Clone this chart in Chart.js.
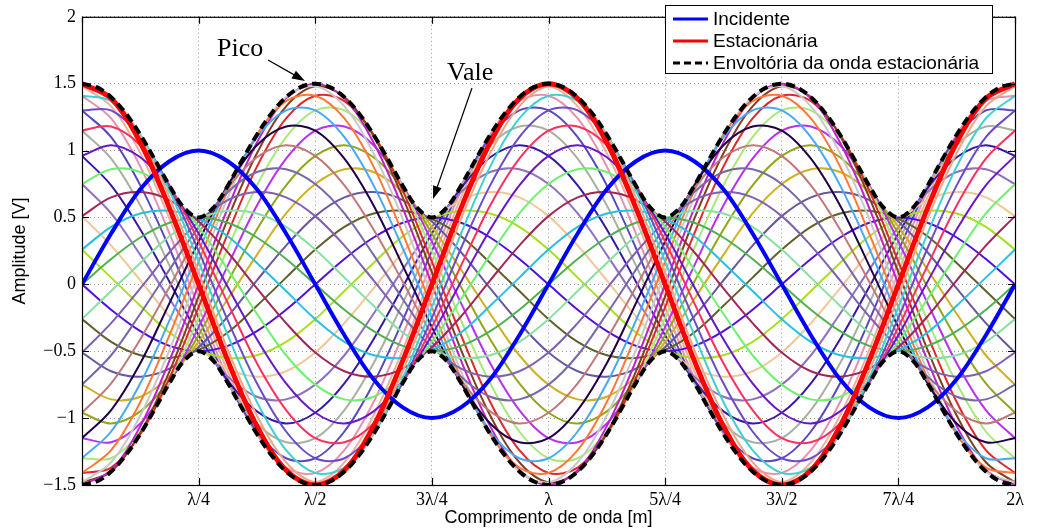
<!DOCTYPE html>
<html>
<head>
<meta charset="utf-8">
<script src="https://cdn.jsdelivr.net/npm/chart.js@4.4.1/dist/chart.umd.min.js"></script>
<style>
  html, body { margin: 0; padding: 0; background: #fff; }
  canvas { display: block; }
</style>
</head>
<body>
<canvas id="ondaChart" width="1057" height="532"></canvas>
<script>
// posições em x (em comprimentos de onda), passo de lambda/16
const xPassos = [0,0.0625,0.125,0.1875,0.25,0.3125,0.375,0.4375,0.5,0.5625,0.625,0.6875,0.75,0.8125,0.875,0.9375,1,
  1.0625,1.125,1.1875,1.25,1.3125,1.375,1.4375,1.5,1.5625,1.625,1.6875,1.75,1.8125,1.875,1.9375,2];

// passo de lambda/32 para a envoltória
const xFino = [0,0.03125,0.0625,0.09375,0.125,0.15625,0.1875,0.21875,0.25,0.28125,0.3125,0.34375,0.375,0.40625,0.4375,0.46875,
  0.5,0.53125,0.5625,0.59375,0.625,0.65625,0.6875,0.71875,0.75,0.78125,0.8125,0.84375,0.875,0.90625,0.9375,0.96875,
  1,1.03125,1.0625,1.09375,1.125,1.15625,1.1875,1.21875,1.25,1.28125,1.3125,1.34375,1.375,1.40625,1.4375,1.46875,
  1.5,1.53125,1.5625,1.59375,1.625,1.65625,1.6875,1.71875,1.75,1.78125,1.8125,1.84375,1.875,1.90625,1.9375,1.96875,2];

const xTickLabels = ['', 'λ/4', 'λ/2', '3λ/4', 'λ', '5λ/4', '3λ/2', '7λ/4', '2λ'];
const yTickLabels = ['−1.5', '−1', '−0.5', '0', '0.5', '1', '1.5', '2'];

// onda incidente
const incidente = [0,0.38,0.71,0.92,1,0.92,0.71,0.38,0,-0.38,-0.71,-0.92,-1,-0.92,-0.71,-0.38,
  0,0.38,0.71,0.92,1,0.92,0.71,0.38,0,-0.38,-0.71,-0.92,-1,-0.92,-0.71,-0.38,0];

// onda estacionaria (instante destacado)
const estacionaria = [1.5,1.39,1.06,0.57,0,-0.57,-1.06,-1.39,-1.5,-1.39,-1.06,-0.57,0,0.57,1.06,1.39,
  1.5,1.39,1.06,0.57,0,-0.57,-1.06,-1.39,-1.5,-1.39,-1.06,-0.57,0,0.57,1.06,1.39,1.5];

// envoltoria
const envSuperior = [1.5,1.474,1.399,1.278,1.118,0.931,0.737,0.571,0.5,0.571,0.737,0.931,1.118,1.278,1.399,1.474,
  1.5,1.474,1.399,1.278,1.118,0.931,0.737,0.571,0.5,0.571,0.737,0.931,1.118,1.278,1.399,1.474,
  1.5,1.474,1.399,1.278,1.118,0.931,0.737,0.571,0.5,0.571,0.737,0.931,1.118,1.278,1.399,1.474,
  1.5,1.474,1.399,1.278,1.118,0.931,0.737,0.571,0.5,0.571,0.737,0.931,1.118,1.278,1.399,1.474,1.5];
const envInferior = [-1.5,-1.474,-1.399,-1.278,-1.118,-0.931,-0.737,-0.571,-0.5,-0.571,-0.737,-0.931,-1.118,-1.278,-1.399,-1.474,
  -1.5,-1.474,-1.399,-1.278,-1.118,-0.931,-0.737,-0.571,-0.5,-0.571,-0.737,-0.931,-1.118,-1.278,-1.399,-1.474,
  -1.5,-1.474,-1.399,-1.278,-1.118,-0.931,-0.737,-0.571,-0.5,-0.571,-0.737,-0.931,-1.118,-1.278,-1.399,-1.474,
  -1.5,-1.474,-1.399,-1.278,-1.118,-0.931,-0.737,-0.571,-0.5,-0.571,-0.737,-0.931,-1.118,-1.278,-1.399,-1.474,-1.5];

// instantes da onda estacionaria, de 10 em 10 graus
const t000 = [1.5,1.39,1.06,0.57,0,-0.57,-1.06,-1.39,-1.5,-1.39,-1.06,-0.57,0,0.57,1.06,1.39,1.5,1.39,1.06,0.57,0,-0.57,-1.06,-1.39,-1.5,-1.39,-1.06,-0.57,0,0.57,1.06,1.39,1.5];
const t010 = [1.48,1.4,1.11,0.65,0.09,-0.49,-0.98,-1.33,-1.48,-1.4,-1.11,-0.65,-0.09,0.49,0.98,1.33,1.48,1.4,1.11,0.65,0.09,-0.49,-0.98,-1.33,-1.48,-1.4,-1.11,-0.65,-0.09,0.49,0.98,1.33,1.48];
const t020 = [1.41,1.37,1.12,0.7,0.17,-0.38,-0.88,-1.24,-1.41,-1.37,-1.12,-0.7,-0.17,0.38,0.88,1.24,1.41,1.37,1.12,0.7,0.17,-0.38,-0.88,-1.24,-1.41,-1.37,-1.12,-0.7,-0.17,0.38,0.88,1.24,1.41];
const t030 = [1.3,1.3,1.1,0.73,0.25,-0.27,-0.74,-1.1,-1.3,-1.3,-1.1,-0.73,-0.25,0.27,0.74,1.1,1.3,1.3,1.1,0.73,0.25,-0.27,-0.74,-1.1,-1.3,-1.3,-1.1,-0.73,-0.25,0.27,0.74,1.1,1.3];
const t040 = [1.15,1.18,1.04,0.74,0.32,-0.14,-0.59,-0.94,-1.15,-1.18,-1.04,-0.74,-0.32,0.14,0.59,0.94,1.15,1.18,1.04,0.74,0.32,-0.14,-0.59,-0.94,-1.15,-1.18,-1.04,-0.74,-0.32,0.14,0.59,0.94,1.15];
const t050 = [0.96,1.04,0.95,0.72,0.38,-0.02,-0.41,-0.74,-0.96,-1.04,-0.95,-0.72,-0.38,0.02,0.41,0.74,0.96,1.04,0.95,0.72,0.38,-0.02,-0.41,-0.74,-0.96,-1.04,-0.95,-0.72,-0.38,0.02,0.41,0.74,0.96];
const t060 = [0.75,0.86,0.84,0.69,0.43,0.11,-0.22,-0.53,-0.75,-0.86,-0.84,-0.69,-0.43,-0.11,0.22,0.53,0.75,0.86,0.84,0.69,0.43,0.11,-0.22,-0.53,-0.75,-0.86,-0.84,-0.69,-0.43,-0.11,0.22,0.53,0.75];
const t070 = [0.51,0.65,0.69,0.63,0.47,0.24,-0.03,-0.29,-0.51,-0.65,-0.69,-0.63,-0.47,-0.24,0.03,0.29,0.51,0.65,0.69,0.63,0.47,0.24,-0.03,-0.29,-0.51,-0.65,-0.69,-0.63,-0.47,-0.24,0.03,0.29,0.51];
const t080 = [0.26,0.43,0.53,0.55,0.49,0.36,0.16,-0.05,-0.26,-0.43,-0.53,-0.55,-0.49,-0.36,-0.16,0.05,0.26,0.43,0.53,0.55,0.49,0.36,0.16,-0.05,-0.26,-0.43,-0.53,-0.55,-0.49,-0.36,-0.16,0.05,0.26];
const t090 = [0,0.19,0.35,0.46,0.5,0.46,0.35,0.19,0,-0.19,-0.35,-0.46,-0.5,-0.46,-0.35,-0.19,0,0.19,0.35,0.46,0.5,0.46,0.35,0.19,0,-0.19,-0.35,-0.46,-0.5,-0.46,-0.35,-0.19,0];
const t100 = [-0.26,-0.05,0.16,0.36,0.49,0.55,0.53,0.43,0.26,0.05,-0.16,-0.36,-0.49,-0.55,-0.53,-0.43,-0.26,-0.05,0.16,0.36,0.49,0.55,0.53,0.43,0.26,0.05,-0.16,-0.36,-0.49,-0.55,-0.53,-0.43,-0.26];
const t110 = [-0.51,-0.29,-0.03,0.24,0.47,0.63,0.69,0.65,0.51,0.29,0.03,-0.24,-0.47,-0.63,-0.69,-0.65,-0.51,-0.29,-0.03,0.24,0.47,0.63,0.69,0.65,0.51,0.29,0.03,-0.24,-0.47,-0.63,-0.69,-0.65,-0.51];
const t120 = [-0.75,-0.53,-0.22,0.11,0.43,0.69,0.84,0.86,0.75,0.53,0.22,-0.11,-0.43,-0.69,-0.84,-0.86,-0.75,-0.53,-0.22,0.11,0.43,0.69,0.84,0.86,0.75,0.53,0.22,-0.11,-0.43,-0.69,-0.84,-0.86,-0.75];
const t130 = [-0.96,-0.74,-0.41,-0.02,0.38,0.72,0.95,1.04,0.96,0.74,0.41,0.02,-0.38,-0.72,-0.95,-1.04,-0.96,-0.74,-0.41,-0.02,0.38,0.72,0.95,1.04,0.96,0.74,0.41,0.02,-0.38,-0.72,-0.95,-1.04,-0.96];
const t140 = [-1.15,-0.94,-0.59,-0.14,0.32,0.74,1.04,1.18,1.15,0.94,0.59,0.14,-0.32,-0.74,-1.04,-1.18,-1.15,-0.94,-0.59,-0.14,0.32,0.74,1.04,1.18,1.15,0.94,0.59,0.14,-0.32,-0.74,-1.04,-1.18,-1.15];
const t150 = [-1.3,-1.1,-0.74,-0.27,0.25,0.73,1.1,1.3,1.3,1.1,0.74,0.27,-0.25,-0.73,-1.1,-1.3,-1.3,-1.1,-0.74,-0.27,0.25,0.73,1.1,1.3,1.3,1.1,0.74,0.27,-0.25,-0.73,-1.1,-1.3,-1.3];
const t160 = [-1.41,-1.24,-0.88,-0.38,0.17,0.7,1.12,1.37,1.41,1.24,0.88,0.38,-0.17,-0.7,-1.12,-1.37,-1.41,-1.24,-0.88,-0.38,0.17,0.7,1.12,1.37,1.41,1.24,0.88,0.38,-0.17,-0.7,-1.12,-1.37,-1.41];
const t170 = [-1.48,-1.33,-0.98,-0.49,0.09,0.65,1.11,1.4,1.48,1.33,0.98,0.49,-0.09,-0.65,-1.11,-1.4,-1.48,-1.33,-0.98,-0.49,0.09,0.65,1.11,1.4,1.48,1.33,0.98,0.49,-0.09,-0.65,-1.11,-1.4,-1.48];
const t180 = [-1.5,-1.39,-1.06,-0.57,0,0.57,1.06,1.39,1.5,1.39,1.06,0.57,0,-0.57,-1.06,-1.39,-1.5,-1.39,-1.06,-0.57,0,0.57,1.06,1.39,1.5,1.39,1.06,0.57,0,-0.57,-1.06,-1.39,-1.5];
const t190 = [-1.48,-1.4,-1.11,-0.65,-0.09,0.49,0.98,1.33,1.48,1.4,1.11,0.65,0.09,-0.49,-0.98,-1.33,-1.48,-1.4,-1.11,-0.65,-0.09,0.49,0.98,1.33,1.48,1.4,1.11,0.65,0.09,-0.49,-0.98,-1.33,-1.48];
const t200 = [-1.41,-1.37,-1.12,-0.7,-0.17,0.38,0.88,1.24,1.41,1.37,1.12,0.7,0.17,-0.38,-0.88,-1.24,-1.41,-1.37,-1.12,-0.7,-0.17,0.38,0.88,1.24,1.41,1.37,1.12,0.7,0.17,-0.38,-0.88,-1.24,-1.41];
const t210 = [-1.3,-1.3,-1.1,-0.73,-0.25,0.27,0.74,1.1,1.3,1.3,1.1,0.73,0.25,-0.27,-0.74,-1.1,-1.3,-1.3,-1.1,-0.73,-0.25,0.27,0.74,1.1,1.3,1.3,1.1,0.73,0.25,-0.27,-0.74,-1.1,-1.3];
const t220 = [-1.15,-1.18,-1.04,-0.74,-0.32,0.14,0.59,0.94,1.15,1.18,1.04,0.74,0.32,-0.14,-0.59,-0.94,-1.15,-1.18,-1.04,-0.74,-0.32,0.14,0.59,0.94,1.15,1.18,1.04,0.74,0.32,-0.14,-0.59,-0.94,-1.15];
const t230 = [-0.96,-1.04,-0.95,-0.72,-0.38,0.02,0.41,0.74,0.96,1.04,0.95,0.72,0.38,-0.02,-0.41,-0.74,-0.96,-1.04,-0.95,-0.72,-0.38,0.02,0.41,0.74,0.96,1.04,0.95,0.72,0.38,-0.02,-0.41,-0.74,-0.96];
const t240 = [-0.75,-0.86,-0.84,-0.69,-0.43,-0.11,0.22,0.53,0.75,0.86,0.84,0.69,0.43,0.11,-0.22,-0.53,-0.75,-0.86,-0.84,-0.69,-0.43,-0.11,0.22,0.53,0.75,0.86,0.84,0.69,0.43,0.11,-0.22,-0.53,-0.75];
const t250 = [-0.51,-0.65,-0.69,-0.63,-0.47,-0.24,0.03,0.29,0.51,0.65,0.69,0.63,0.47,0.24,-0.03,-0.29,-0.51,-0.65,-0.69,-0.63,-0.47,-0.24,0.03,0.29,0.51,0.65,0.69,0.63,0.47,0.24,-0.03,-0.29,-0.51];
const t260 = [-0.26,-0.43,-0.53,-0.55,-0.49,-0.36,-0.16,0.05,0.26,0.43,0.53,0.55,0.49,0.36,0.16,-0.05,-0.26,-0.43,-0.53,-0.55,-0.49,-0.36,-0.16,0.05,0.26,0.43,0.53,0.55,0.49,0.36,0.16,-0.05,-0.26];
const t270 = [0,-0.19,-0.35,-0.46,-0.5,-0.46,-0.35,-0.19,0,0.19,0.35,0.46,0.5,0.46,0.35,0.19,0,-0.19,-0.35,-0.46,-0.5,-0.46,-0.35,-0.19,0,0.19,0.35,0.46,0.5,0.46,0.35,0.19,0];
const t280 = [0.26,0.05,-0.16,-0.36,-0.49,-0.55,-0.53,-0.43,-0.26,-0.05,0.16,0.36,0.49,0.55,0.53,0.43,0.26,0.05,-0.16,-0.36,-0.49,-0.55,-0.53,-0.43,-0.26,-0.05,0.16,0.36,0.49,0.55,0.53,0.43,0.26];
const t290 = [0.51,0.29,0.03,-0.24,-0.47,-0.63,-0.69,-0.65,-0.51,-0.29,-0.03,0.24,0.47,0.63,0.69,0.65,0.51,0.29,0.03,-0.24,-0.47,-0.63,-0.69,-0.65,-0.51,-0.29,-0.03,0.24,0.47,0.63,0.69,0.65,0.51];
const t300 = [0.75,0.53,0.22,-0.11,-0.43,-0.69,-0.84,-0.86,-0.75,-0.53,-0.22,0.11,0.43,0.69,0.84,0.86,0.75,0.53,0.22,-0.11,-0.43,-0.69,-0.84,-0.86,-0.75,-0.53,-0.22,0.11,0.43,0.69,0.84,0.86,0.75];
const t310 = [0.96,0.74,0.41,0.02,-0.38,-0.72,-0.95,-1.04,-0.96,-0.74,-0.41,-0.02,0.38,0.72,0.95,1.04,0.96,0.74,0.41,0.02,-0.38,-0.72,-0.95,-1.04,-0.96,-0.74,-0.41,-0.02,0.38,0.72,0.95,1.04,0.96];
const t320 = [1.15,0.94,0.59,0.14,-0.32,-0.74,-1.04,-1.18,-1.15,-0.94,-0.59,-0.14,0.32,0.74,1.04,1.18,1.15,0.94,0.59,0.14,-0.32,-0.74,-1.04,-1.18,-1.15,-0.94,-0.59,-0.14,0.32,0.74,1.04,1.18,1.15];
const t330 = [1.3,1.1,0.74,0.27,-0.25,-0.73,-1.1,-1.3,-1.3,-1.1,-0.74,-0.27,0.25,0.73,1.1,1.3,1.3,1.1,0.74,0.27,-0.25,-0.73,-1.1,-1.3,-1.3,-1.1,-0.74,-0.27,0.25,0.73,1.1,1.3,1.3];
const t340 = [1.41,1.24,0.88,0.38,-0.17,-0.7,-1.12,-1.37,-1.41,-1.24,-0.88,-0.38,0.17,0.7,1.12,1.37,1.41,1.24,0.88,0.38,-0.17,-0.7,-1.12,-1.37,-1.41,-1.24,-0.88,-0.38,0.17,0.7,1.12,1.37,1.41];
const t350 = [1.48,1.33,0.98,0.49,-0.09,-0.65,-1.11,-1.4,-1.48,-1.33,-0.98,-0.49,0.09,0.65,1.11,1.4,1.48,1.33,0.98,0.49,-0.09,-0.65,-1.11,-1.4,-1.48,-1.33,-0.98,-0.49,0.09,0.65,1.11,1.4,1.48];

const instantes = [t000,t010,t020,t030,t040,t050,t060,t070,t080,t090,t100,t110,t120,t130,t140,t150,t160,t170,
  t180,t190,t200,t210,t220,t230,t240,t250,t260,t270,t280,t290,t300,t310,t320,t330,t340,t350];
const coresInstantes = ['#1a1a1a','#e8a888','#40d0d0','#6a4cc8','#ff3060','#6818c8','#70f070','#a02858','#28c0e0',
  '#50b050','#88e0a0','#8060b0','#7868a8','#c07878','#200048','#48a8f8','#ff7838','#c8c8c8',
  '#c020c8','#804020','#e02828','#a8e878','#b830f0','#90a818','#d0b020','#6858a0','#606028',
  '#5010e0','#a8e020','#f0c898','#9070c0','#3818a8','#a8b0a0','#5848c0','#e890b0','#f0b0a0'];

const legendaTextos = ['Incidente', 'Estacionária', 'Envoltória da onda estacionária'];

function pontos(xs, ys) {
    return ys.map((v, i) => ({ x: xs[i], y: v }));
}

function desenhaSeta(ctx, x1, y1, x2, y2) {
    const ang = Math.atan2(y2 - y1, x2 - x1);
    const len = 13, w = 4.5;
    ctx.beginPath();
    ctx.moveTo(x1, y1);
    ctx.lineTo(x2 - Math.cos(ang) * len * 0.8, y2 - Math.sin(ang) * len * 0.8);
    ctx.stroke();
    ctx.beginPath();
    ctx.moveTo(x2, y2);
    ctx.lineTo(x2 - Math.cos(ang) * len + Math.sin(ang) * w, y2 - Math.sin(ang) * len - Math.cos(ang) * w);
    ctx.lineTo(x2 - Math.cos(ang) * len - Math.sin(ang) * w, y2 - Math.sin(ang) * len + Math.cos(ang) * w);
    ctx.closePath();
    ctx.fill();
}

// moldura, marcas internas, anotacoes e legenda no estilo do MATLAB
const molduraPlugin = {
    id: 'moldura',
    afterDatasetsDraw(chart) {
        const { ctx, chartArea: a, scales: { x, y } } = chart;
        ctx.save();
        ctx.strokeStyle = '#000';
        ctx.lineWidth = 1.2;
        ctx.strokeRect(a.left + 0.5, a.top + 0.5, a.right - a.left, a.bottom - a.top);
        ctx.beginPath();
        x.ticks.forEach(t => {
            const px = Math.round(x.getPixelForValue(t.value)) + 0.5;
            ctx.moveTo(px, a.bottom); ctx.lineTo(px, a.bottom - 7);
            ctx.moveTo(px, a.top); ctx.lineTo(px, a.top + 7);
        });
        y.ticks.forEach(t => {
            const py = Math.round(y.getPixelForValue(t.value)) + 0.5;
            ctx.moveTo(a.left, py); ctx.lineTo(a.left + 7, py);
            ctx.moveTo(a.right, py); ctx.lineTo(a.right - 7, py);
        });
        ctx.stroke();
        ctx.restore();
    },
    afterDraw(chart) {
        const { ctx } = chart;
        ctx.save();
        // anotacoes
        ctx.fillStyle = '#000';
        ctx.strokeStyle = '#000';
        ctx.lineWidth = 1.2;
        ctx.font = '26px "Liberation Serif"';
        ctx.textBaseline = 'alphabetic';
        ctx.fillText('Pico', 217, 56);
        ctx.fillText('Vale', 447, 80);
        desenhaSeta(ctx, 268, 60, 305, 81);
        desenhaSeta(ctx, 472, 88, 433, 199);

        // legenda
        const bx = 665, by = 5, bw = 327, bh = 68;
        ctx.fillStyle = '#fff';
        ctx.fillRect(bx, by, bw, bh);
        ctx.lineWidth = 1;
        ctx.strokeRect(bx + 0.5, by + 0.5, bw, bh);
        const estilos = [
            { cor: '#0000ff', dash: [] },
            { cor: '#ff0000', dash: [] },
            { cor: '#000000', dash: [7, 4] }
        ];
        ctx.font = '19px "Liberation Sans"';
        ctx.textBaseline = 'middle';
        legendaTextos.forEach((txt, i) => {
            const yy = by + 14 + i * 22;
            ctx.beginPath();
            ctx.setLineDash(estilos[i].dash);
            ctx.strokeStyle = estilos[i].cor;
            ctx.lineWidth = 3;
            ctx.moveTo(bx + 8, yy);
            ctx.lineTo(bx + 43, yy);
            ctx.stroke();
            ctx.setLineDash([]);
            ctx.fillStyle = '#000';
            ctx.fillText(txt, bx + 48, yy + 1);
        });
        ctx.restore();
    }
};

const datasets = [
    { label: 'Envoltória da onda estacionária', data: pontos(xFino, envSuperior), borderColor: '#000', borderWidth: 4, borderDash: [9, 5], order: 0 },
    { label: 'Envoltória inferior', data: pontos(xFino, envInferior), borderColor: '#000', borderWidth: 4, borderDash: [9, 5], order: 0 },
    { label: 'Estacionária', data: pontos(xPassos, estacionaria), borderColor: '#ff0000', borderWidth: 5, order: 1 },
    { label: 'Incidente', data: pontos(xPassos, incidente), borderColor: '#0000ff', borderWidth: 4, order: 2 }
];
instantes.forEach((serie, i) => {
    datasets.push({ label: 't' + i, data: pontos(xPassos, serie), borderColor: coresInstantes[i], borderWidth: 2, order: 3 });
});

new Chart(document.getElementById('ondaChart').getContext('2d'), {
    type: 'line',
    data: { datasets: datasets },
    options: {
        responsive: false,
        animation: false,
        events: [],
        layout: { padding: { left: 0, right: 42, top: 15, bottom: 0 } },
        elements: {
            point: { radius: 0 },
            line: { tension: 0.34, fill: false }
        },
        plugins: {
            legend: { display: false },
            tooltip: { enabled: false }
        },
        scales: {
            x: {
                type: 'linear',
                min: 0,
                max: 2,
                afterFit: s => { s.height = 47; },
                grid: { color: '#9a9a9a', lineWidth: 1, drawTicks: false },
                border: { display: false, dash: [1, 3] },
                ticks: {
                    stepSize: 0.25,
                    autoSkip: false,
                    maxRotation: 0,
                    padding: 4,
                    color: '#000',
                    font: { family: 'Liberation Serif', size: 18 },
                    callback: (v, i) => xTickLabels[i]
                },
                title: {
                    display: true,
                    text: 'Comprimento de onda [m]',
                    color: '#000',
                    font: { family: 'Liberation Sans', size: 18 },
                    padding: { top: 0, bottom: 3 }
                }
            },
            y: {
                type: 'linear',
                min: -1.5,
                max: 2,
                afterFit: s => { s.width = 82; },
                grid: { color: '#9a9a9a', lineWidth: 1, drawTicks: false },
                border: { display: false, dash: [1, 3] },
                ticks: {
                    stepSize: 0.5,
                    padding: 6,
                    color: '#000',
                    font: { family: 'Liberation Serif', size: 18 },
                    callback: (v, i) => yTickLabels[i]
                },
                title: {
                    display: true,
                    text: 'Amplitude [V]',
                    color: '#000',
                    font: { family: 'Liberation Sans', size: 18 },
                    padding: { top: 9, bottom: 0 }
                }
            }
        }
    },
    plugins: [molduraPlugin]
});
</script>
</body>
</html>
